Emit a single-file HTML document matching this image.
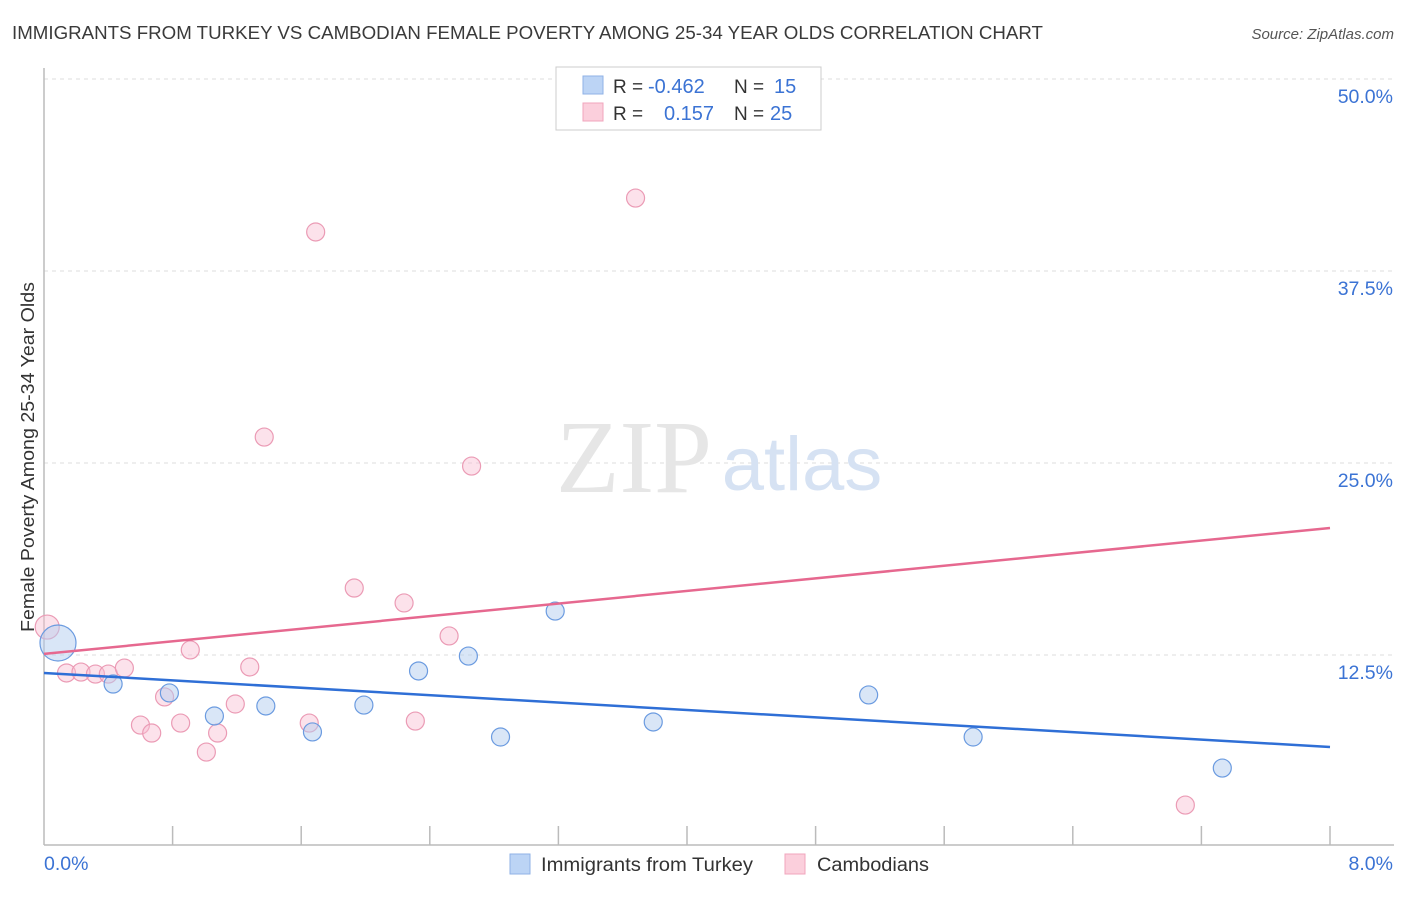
<!DOCTYPE html>
<html><head><meta charset="utf-8"><style>
body{margin:0;background:#fff;font-family:"Liberation Sans",sans-serif;}
svg text{font-family:"Liberation Sans",sans-serif;}
</style></head><body>
<svg id="chart" width="1406" height="892" xmlns="http://www.w3.org/2000/svg">
<text x="12" y="39" font-size="18.5" textLength="1031" lengthAdjust="spacingAndGlyphs" fill="#3a3a3a">IMMIGRANTS FROM TURKEY VS CAMBODIAN FEMALE POVERTY AMONG 25-34 YEAR OLDS CORRELATION CHART</text>
<text x="1394" y="39" font-size="15" fill="#555" font-style="italic" text-anchor="end">Source: ZipAtlas.com</text>
<g id="grid"></g>
<text x="634" y="492" font-size="104" fill="#e6e6e6" text-anchor="middle" style="font-family:'Liberation Serif',serif">ZIP</text>
<text x="802" y="490" font-size="76" fill="#d6e2f3" text-anchor="middle">atlas</text>
<g id="axes"></g>
<g id="points"></g>
<g id="trends"></g>
<text transform="translate(34,457) rotate(-90)" font-size="18" textLength="350" lengthAdjust="spacingAndGlyphs" fill="#333" text-anchor="middle">Female Poverty Among 25-34 Year Olds</text>
<g>
<rect x="556" y="67" width="265" height="63" fill="#fff" stroke="#ccc"/>
<rect x="583" y="76" width="20" height="18" fill="#bcd4f5" stroke="#8fb2e6"/>
<rect x="583" y="103" width="20" height="18" fill="#fbcfdc" stroke="#f0a5bc"/>
<text x="613" y="93" font-size="19" fill="#333">R = </text><text x="648" y="93" font-size="20" fill="#3b73d4">-0.462</text>
<text x="734" y="93" font-size="19" fill="#333">N = </text><text x="774" y="93" font-size="20" fill="#3b73d4">15</text>
<text x="613" y="120" font-size="19" fill="#333">R = </text><text x="664" y="120" font-size="20" fill="#3b73d4">0.157</text>
<text x="734" y="120" font-size="19" fill="#333">N = </text><text x="770" y="120" font-size="20" fill="#3b73d4">25</text>
</g>
<g>
<rect x="510" y="854" width="20" height="20" fill="#bcd4f5" stroke="#8fb2e6"/>
<text x="541" y="871" font-size="19" textLength="212" lengthAdjust="spacingAndGlyphs" fill="#333">Immigrants from Turkey</text>
<rect x="785" y="854" width="20" height="20" fill="#fbcfdc" stroke="#f0a5bc"/>
<text x="817" y="871" font-size="19" textLength="112" lengthAdjust="spacingAndGlyphs" fill="#333">Cambodians</text>
</g>
</svg>
<script>
const xTickValues=[0,0.8,1.6,2.4,3.2,4.0,4.8,5.6,6.4,7.2,8.0];
const yTickValues=[12.5,25,37.5,50];
const yTickLabels=["12.5%","25.0%","37.5%","50.0%"];
const xEndLabels=["0.0%","8.0%"];
const blueX=[0.087,0.43,0.78,1.06,1.38,1.67,1.99,2.33,2.64,2.84,3.18,3.79,5.13,5.78,7.33];
const blueY=[13.28,10.61,10.03,8.53,9.18,7.49,9.24,11.46,12.43,7.16,15.36,8.14,9.90,7.16,5.14];
const blueR=[18,9,9,9,9,9,9,9,9,9,9,9,9,9,9];
const pinkX=[0.02,0.14,0.23,0.32,0.40,0.50,0.60,0.67,0.75,0.85,0.91,1.01,1.08,1.19,1.28,1.37,1.65,1.69,1.93,2.24,2.31,2.52,2.66,3.68,7.10];
const pinkY=[14.32,11.33,11.39,11.26,11.26,11.65,7.94,7.42,9.77,8.07,12.83,6.18,7.42,9.31,11.72,26.69,8.07,40.04,16.86,15.89,8.20,13.74,24.80,42.25,2.73];
const blueTrend=[11.33,6.51];
const pinkTrend=[12.57,20.77];
const NS="http://www.w3.org/2000/svg";
const X=v=>44+v/8*1286;
const Y=v=>847-v*15.36;
function mk(tag,attrs,parent){const e=document.createElementNS(NS,tag);for(const k in attrs)e.setAttribute(k,attrs[k]);parent.appendChild(e);return e;}
const grid=document.getElementById('grid'),axes=document.getElementById('axes'),pts=document.getElementById('points'),tr=document.getElementById('trends');
yTickValues.forEach((v,i)=>{
 const l=mk('line',{x1:44,x2:1394,y1:Y(v),y2:Y(v),stroke:'#dcdcdc','stroke-dasharray':'4,4'},grid);
 
 
 const t=mk('text',{x:1393,y:Y(v)+24,'font-size':19.5,fill:'#3b73d4','text-anchor':'end'},grid);
 t.textContent=yTickLabels[i];
 
 
});
const ax=mk('line',{x1:44,x2:44,y1:68,y2:845,stroke:'#bbb','stroke-width':1.5},axes);


const bx=mk('line',{x1:44,x2:1394,y1:845,y2:845,stroke:'#bbb','stroke-width':1.5},axes);


xTickValues.forEach(v=>{
 if(v===0)return;
 const t=mk('line',{x1:X(v),x2:X(v),y1:826,y2:845,stroke:'#bbb','stroke-width':1.5},axes);
 
 
});
[[0,'start',44],[8,'end',1393]].forEach((a,i)=>{
 const t=mk('text',{x:a[2],y:870,'font-size':19.5,fill:'#3b73d4','text-anchor':a[1]},axes);
 t.textContent=xEndLabels[i];
 
 
});
pinkX.forEach((x,i)=>{
 const c=mk('circle',{cx:X(x),cy:Y(pinkY[i]),r:i===0?12:9,fill:'rgba(248,190,210,0.45)',stroke:'#eb9bb5','stroke-width':1.2},pts);
 
 
});
blueX.forEach((x,i)=>{
 const c=mk('circle',{cx:X(x),cy:Y(blueY[i]),r:blueR[i],fill:'rgba(180,205,240,0.5)',stroke:'#6b9be0','stroke-width':1.2},pts);
 
 
});
const bl=mk('line',{x1:X(0),y1:Y(blueTrend[0]),x2:X(8),y2:Y(blueTrend[1]),stroke:'#2f6fd6','stroke-width':2.5},tr);


const pl=mk('line',{x1:X(0),y1:Y(pinkTrend[0]),x2:X(8),y2:Y(pinkTrend[1]),stroke:'#e6688f','stroke-width':2.5},tr);


</script>
</body></html>
